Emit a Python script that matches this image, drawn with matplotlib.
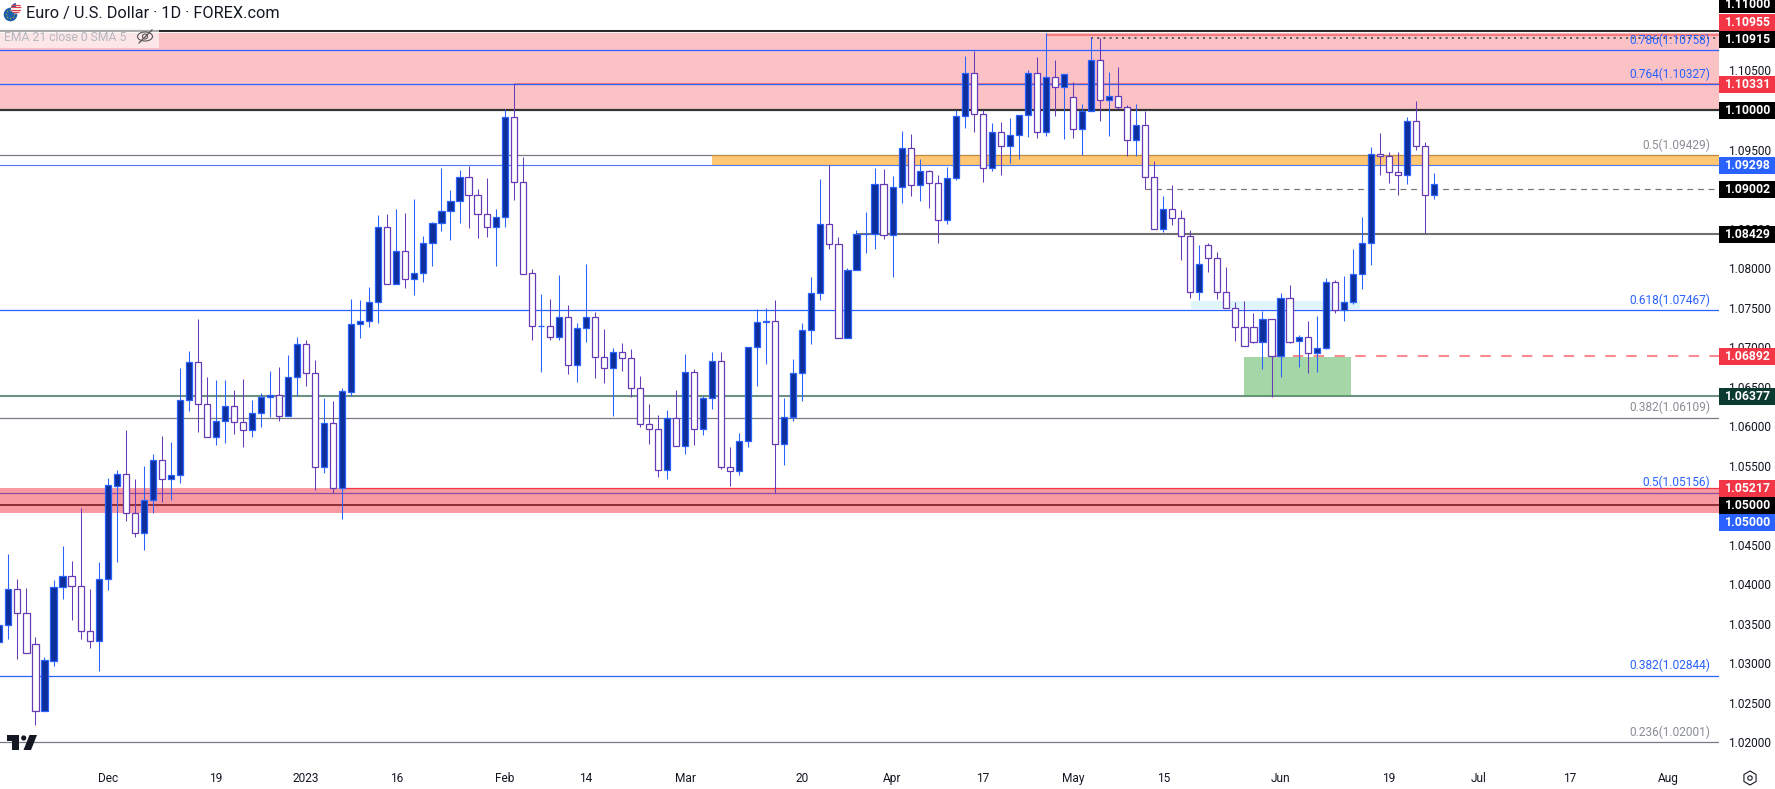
import matplotlib
matplotlib.use("Agg")
import matplotlib.pyplot as plt
from matplotlib.patches import Rectangle, Circle, Polygon, Ellipse, RegularPolygon
import numpy as np

plt.rcParams["font.family"] = ["Roboto", "DejaVu Sans"]

# daily EUR/USD sessions
opens = [1.03266,1.03481,1.03937,1.03633,1.03241,1.02402,1.03034,1.03962,1.04101,1.03975,
         1.03405,1.03287,1.04063,1.05248,1.05391,1.04898,1.04653,1.05063,1.05569,1.05328,
         1.05379,1.06328,1.06817,1.06277,1.05860,1.06062,1.06252,1.06049,1.05957,1.06163,
         1.06366,1.06391,1.06125,1.06618,1.07036,1.06669,1.05480,1.06037,1.05214,1.06437,
         1.07289,1.07327,1.07567,1.08516,1.07803,1.08212,1.07867,1.07934,1.08314,1.08567,
         1.08718,1.08845,1.09157,1.08921,1.08680,1.08516,1.08643,1.09908,1.09094,1.07942,
         1.07264,1.07272,1.07124,1.07386,1.06770,1.07238,1.07377,1.06871,1.06732,1.06934,
         1.06858,1.06479,1.06032,1.05969,1.05442,1.06099,1.05745,1.06681,1.05960,1.06352,
         1.06821,1.05488,1.05429,1.05808,1.06998,1.07314,1.07327,1.05771,1.06112,1.06669,
         1.07213,1.07681,1.08554,1.08309,1.07120,1.07972,1.08427,1.08436,1.09060,1.08415,
         1.09022,1.09515,1.09047,1.09224,1.09073,1.08605,1.09136,1.09920,1.10464,1.09946,
         1.09262,1.09718,1.09541,1.09688,1.09933,1.10464,1.09718,1.10414,1.10287,1.10161,
         1.09756,1.09984,1.10629,1.10123,1.10173,1.10034,1.09617,1.09806,1.09149,1.08491,
         1.08744,1.08630,1.08402,1.07694,1.08288,1.08124,1.07694,1.07491,1.07251,1.07259,
         1.07070,1.07352,1.06884,1.07618,1.07078,1.07133,1.06922,1.06985,1.07820,1.07474,
         1.07567,1.07921,1.08314,1.09440,1.09414,1.09212,1.09174,1.09857,1.09549,1.08921]
highs = [1.03550,1.04384,1.04067,1.03953,1.03334,1.03081,1.04055,1.04485,1.04295,1.04966,
         1.03941,1.04282,1.05345,1.05446,1.05952,1.05332,1.05497,1.05649,1.05876,1.05801,
         1.06732,1.06951,1.07356,1.06618,1.06585,1.06585,1.06458,1.06597,1.06332,1.06416,
         1.06698,1.06745,1.06901,1.07129,1.07091,1.06838,1.06357,1.06315,1.06479,1.07609,
         1.07597,1.07761,1.08672,1.08685,1.08748,1.08693,1.08874,1.08406,1.08588,1.09267,
         1.08988,1.09241,1.09296,1.09001,1.09140,1.08744,1.10009,1.10329,1.09406,1.07985,
         1.07673,1.07609,1.07913,1.07533,1.07310,1.08052,1.07445,1.07230,1.06989,1.07052,
         1.06977,1.06635,1.06281,1.06142,1.06205,1.06458,1.06913,1.06724,1.06382,1.06939,
         1.06939,1.05741,1.05914,1.06998,1.07478,1.07495,1.07596,1.06357,1.06850,1.07305,
         1.07887,1.09127,1.09305,1.08394,1.08002,1.08482,1.08710,1.09267,1.09254,1.09165,
         1.09735,1.09697,1.09380,1.09241,1.09178,1.09279,1.10000,1.10684,1.10751,1.10000,
         1.09836,1.09849,1.09899,1.09933,1.10506,1.10671,1.10970,1.10633,1.10452,1.10355,
         1.10076,1.10920,1.10911,1.10481,1.10544,1.10059,1.10076,1.09992,1.09355,1.08912,
         1.09052,1.08735,1.08482,1.08292,1.08318,1.08200,1.08014,1.07567,1.07584,1.07428,
         1.07462,1.07352,1.07681,1.07782,1.07150,1.07327,1.07394,1.07875,1.07846,1.07900,
         1.08242,1.08647,1.09532,1.09709,1.09465,1.09469,1.09908,1.10114,1.09591,1.09203]
lows = [1.03200,1.03308,1.03055,1.03127,1.02220,1.02402,1.02971,1.03814,1.03553,1.03308,
        1.03194,1.02903,1.03928,1.04282,1.04801,1.04599,1.04434,1.04902,1.05041,1.05067,
        1.05282,1.06193,1.05927,1.05860,1.05767,1.05792,1.05902,1.05741,1.05868,1.05994,
        1.06117,1.06070,1.06125,1.06386,1.06513,1.05197,1.05413,1.05155,1.04831,1.06386,
        1.07120,1.07259,1.07310,1.07803,1.07803,1.07753,1.07660,1.07824,1.08031,1.08470,
        1.08360,1.08575,1.08508,1.08385,1.08394,1.08031,1.08524,1.08862,1.07921,1.07091,
        1.06690,1.07091,1.07091,1.06661,1.06564,1.07065,1.06614,1.06551,1.06133,1.06702,
        1.06374,1.05994,1.05779,1.05357,1.05336,1.05745,1.05652,1.05762,1.05893,1.06217,
        1.05458,1.05243,1.05387,1.05741,1.06508,1.06787,1.05151,1.05509,1.06066,1.06319,
        1.07040,1.07597,1.08246,1.07120,1.07120,1.07972,1.08196,1.08242,1.08373,1.07892,
        1.08828,1.08917,1.08853,1.08761,1.08322,1.08562,1.09119,1.09777,1.09722,1.09094,
        1.09233,1.09182,1.09334,1.09385,1.09663,1.09650,1.09676,1.09929,1.09638,1.09650,
        1.09431,1.09984,1.09865,1.09676,1.10009,1.09423,1.09423,1.08997,1.08491,1.08457,
        1.08550,1.08103,1.07618,1.07597,1.07955,1.07609,1.07491,1.07082,1.07011,1.07057,
        1.06724,1.06365,1.06627,1.07057,1.06749,1.06677,1.06690,1.06973,1.07436,1.07335,
        1.07546,1.07740,1.08039,1.09178,1.09081,1.08925,1.09064,1.09494,1.08444,1.08874]
closes = [1.03485,1.03937,1.03633,1.03127,1.02402,1.03038,1.03962,1.04101,1.03975,1.03405,
          1.03287,1.04063,1.05252,1.05391,1.04898,1.04653,1.05063,1.05569,1.05328,1.05379,
          1.06328,1.06817,1.06277,1.05860,1.06062,1.06252,1.06049,1.05957,1.06163,1.06366,
          1.06391,1.06125,1.06618,1.07036,1.06669,1.05480,1.06037,1.05214,1.06441,1.07289,
          1.07327,1.07567,1.08516,1.07803,1.08212,1.07867,1.07934,1.08314,1.08567,1.08718,
          1.08845,1.09157,1.08921,1.08680,1.08516,1.08643,1.09908,1.09094,1.07921,1.07264,
          1.07272,1.07124,1.07386,1.06770,1.07238,1.07377,1.06871,1.06732,1.06934,1.06858,
          1.06479,1.06032,1.05969,1.05442,1.06099,1.05745,1.06681,1.05960,1.06352,1.06821,
          1.05488,1.05429,1.05808,1.06998,1.07314,1.07331,1.05771,1.06112,1.06669,1.07213,
          1.07681,1.08554,1.08309,1.07120,1.07972,1.08427,1.08436,1.09060,1.08415,1.09022,
          1.09515,1.09047,1.09224,1.09073,1.08605,1.09136,1.09920,1.10464,1.09946,1.09262,
          1.09718,1.09541,1.09688,1.09933,1.10464,1.09718,1.10414,1.10287,1.10452,1.09756,
          1.09984,1.10629,1.10123,1.10173,1.10034,1.09617,1.09806,1.09149,1.08491,1.08744,
          1.08630,1.08402,1.07694,1.08048,1.08124,1.07694,1.07491,1.07251,1.07011,1.07070,
          1.07352,1.06884,1.07618,1.07070,1.07133,1.06922,1.06985,1.07820,1.07474,1.07567,
          1.07921,1.08314,1.09440,1.09414,1.09212,1.09174,1.09857,1.09549,1.08921,1.09060]

# x axis labels sit on session numbers
tick_sessions = [12,24,34,44,56,65,76,89,99,109,119,129,142,154,164,174,185]
tick_labels = ["Dec","19","2023","16","Feb","14","Mar","20","Apr","17","May","15","Jun","19","Jul","17","Aug"]

# ticks fully covered by a boxed label are left out
price_ticks = [1.02,1.025,1.03,1.035,1.04,1.045,1.055,1.06,1.065,1.07,1.075,1.08,1.085,1.095,1.105]

# fib levels: ratio, price, text colour
fib_ratios = ["0.786","0.764","0.5","0.618","0.382","0.5","0.382","0.236"]
fib_prices = [1.10758,1.10327,1.09429,1.07467,1.06109,1.05156,1.02844,1.02001]
fib_colors = ["#2962ff","#2962ff","#8a8d96","#2962ff","#8a8d96","#2962ff","#2962ff","#8a8d96"]

# boxed price labels on the right scale
box_texts = ["1.11000","1.10955","1.10915","1.10331","1.10000","1.09298","1.09002","1.08429","1.06892","1.06377","1.05217","1.05000","1.05000"]
box_colors = ["#000000","#f23645","#000000","#f23645","#000000","#2962ff","#000000","#000000","#f23645","#0a3a30","#f23645","#000000","#2962ff"]
box_y = [4.5,22,39,84.5,110.5,165.5,189.5,234.5,356.5,396.5,488.5,505.5,522.5]

W, H = 1775, 789
AX_W, AX_H = 1719, 762
fig = plt.figure(figsize=(W/100, H/100), dpi=100, facecolor="white")
ax = fig.add_axes([0, (H-AX_H)/H, AX_W/W, AX_H/H])
ax.set_xlim(0.0687, 190.6)
ax.set_ylim(1.10-652/7904, 1.10+110/7904)
for s in ax.spines.values():
    s.set_visible(False)

BLUE = "#2962ff"
GREY = "#787b86"
RED = "#f23645"
END = 191

# zones
ax.axhspan(1.10, 1.10977, color=RED, alpha=0.3, lw=0, zorder=1)
ax.add_patch(Rectangle((79, 1.09298), END-79, 1.09429-1.09298, color="#ff9800", alpha=0.55, lw=0, zorder=3))
ax.add_patch(Rectangle((132.1, 1.07482), 18.7, 1.07583-1.07482, color="#00bcd4", alpha=0.13, lw=0, zorder=3))
ax.add_patch(Rectangle((138, 1.06377), 11.8, 1.06875-1.06377, color="#4caf50", alpha=0.5, lw=0, zorder=3))
ax.axhspan(1.04901, 1.05217, color=RED, alpha=0.5, lw=0, zorder=3)

# level lines
ax.hlines(1.11, 0, END, color="#2b2b2b", lw=1.5, zorder=2)
ax.hlines(1.10, 0, END, color="#333333", lw=1.6, zorder=2)
ax.hlines(1.05, 0, END, color="#000000", lw=1.2, zorder=2)
ax.hlines(1.06377, 0, END, color="#6e8f83", lw=1.5, zorder=2)
ax.hlines(1.08429, 95, END, color="#707070", lw=1.5, zorder=2)
ax.hlines(1.09298, 0, END, color="#4f7cf0", lw=0.85, zorder=2)
ax.hlines(1.10955, 116, END, color="#f77c80", lw=1.5, zorder=2)
ax.hlines(1.10331, 57, END, color="#f77c80", lw=1.5, zorder=2)
ax.hlines(1.05217, 38, END, color=RED, lw=0.9, zorder=2)
ax.hlines(1.10915, 121, END, color="#555555", lw=1.4, linestyles=[(0, (1, 2.2))], zorder=2)
ax.hlines(1.09002, 127, END, color="#777777", lw=0.85, linestyles=[(0, (5, 4))], zorder=2)
ax.hlines(1.06892, 141, END, color="#f98b90", lw=1.5, linestyles=[(0, (5, 5))], zorder=2)
for r, p, c in zip(fib_ratios, fib_prices, fib_colors):
    ax.hlines(p, 0, END, color=BLUE if c == BLUE else GREY, lw=0.9, zorder=2)
    ax.annotate(f"{r}({p:.5f})", (1, p), xycoords=("axes fraction", "data"), xytext=(-6.5, 7.4),
                textcoords="offset points", ha="right", va="center", color=c, fontsize=8.6, zorder=4)

# candles
x = np.arange(len(opens))
o, h, l, c = map(np.array, (opens, highs, lows, closes))
up = c >= o
wicks_up = ax.vlines(x[up], l[up], h[up], color=BLUE, lw=0.75, zorder=5)
wicks_dn = ax.vlines(x[~up], l[~up], h[~up], color="#673ab7", lw=0.75, zorder=5)
wicks_up.set_snap(True)
wicks_dn.set_snap(True)
ax.bar(x[up], (c-o)[up], bottom=o[up], width=0.68, facecolor="#0d2f9b", edgecolor=BLUE, linewidth=0.9, zorder=6)
ax.bar(x[~up], (o-c)[~up], bottom=c[~up], width=0.68, facecolor="white", edgecolor="#673ab7", linewidth=0.9, zorder=6)

# scales
ax.yaxis.tick_right()
ax.set_yticks(price_ticks)
ax.set_yticklabels([f"{p:.5f}" for p in price_ticks], fontsize=8.6, color="#131722")
ax.set_xticks(tick_sessions)
ax.set_xticklabels(tick_labels, fontsize=8.6, color="#131722")
ax.tick_params(axis="y", length=0, pad=6.5)
ax.tick_params(axis="x", length=0, pad=7)

# overlay in pixel coordinates for labels and icons
ov = fig.add_axes([0, 0, 1, 1], facecolor="none", zorder=10)
ov.set_xlim(0, W)
ov.set_ylim(H, 0)
ov.axis("off")

for t, col, yy in zip(box_texts, box_colors, box_y):
    ov.add_patch(Rectangle((AX_W, yy-8.5), W-AX_W, 17, color=col, lw=0, zorder=2))
    ov.text(1748, yy, t, color="white", fontsize=8.8, fontweight="bold", ha="center", va="center", zorder=3)

ov.text(26, 13.5, "Euro / U.S. Dollar · 1D · FOREX.com", fontsize=11.7, color="#131722", ha="left", va="center")

# hidden indicator legend
ov.add_patch(Rectangle((0, 30), 159, 18, color="white", alpha=0.6, lw=0))
ov.text(4, 37, "EMA 21 close 0 SMA 5", fontsize=8.7, color="#b4b7bf", ha="left", va="center")
ov.add_patch(Ellipse((145, 36.5), 15, 9, fill=False, ec="#555555", lw=0.8))
ov.add_patch(Circle((145, 36.5), 2.5, fill=False, ec="#555555", lw=0.8))
ov.plot([139, 152], [43, 30], color="#555555", lw=0.9)

# symbol icon
ov.add_patch(Circle((10.5, 14.5), 6.8, color="#1f5fa8", lw=0))
for a in np.linspace(0, 2*np.pi, 8, endpoint=False):
    ov.add_patch(Circle((10.5+4*np.cos(a), 14.5+4*np.sin(a)), 0.55, color="#f5c518", lw=0))
flag = Circle((16.2, 8.3), 5.3, color="white", lw=0)
ov.add_patch(flag)
for yy in (4.5, 7, 9.5, 12):
    ln, = ov.plot([10, 22], [yy, yy], color="#d9434e", lw=0.9)
    ln.set_clip_path(flag)
canton = Rectangle((11, 3), 5, 5, color="#3c5aa6", lw=0)
ov.add_patch(canton)
canton.set_clip_path(flag)

# TradingView mark
ov.add_patch(Polygon([(7, 735), (19, 735), (19, 750), (12, 750), (12, 741), (7, 741)], color="#131722", lw=0))
ov.add_patch(Circle((23.7, 738), 2.6, color="#131722", lw=0))
ov.add_patch(Polygon([(29.5, 735), (37, 735), (31, 750), (23.5, 750)], color="#131722", lw=0))

# settings icon
ov.add_patch(RegularPolygon((1750, 778), 6, radius=7, fill=False, ec="#131722", lw=0.8))
ov.add_patch(Circle((1750, 778), 2.2, fill=False, ec="#131722", lw=0.8))

fig.savefig("out.png", dpi=100)
